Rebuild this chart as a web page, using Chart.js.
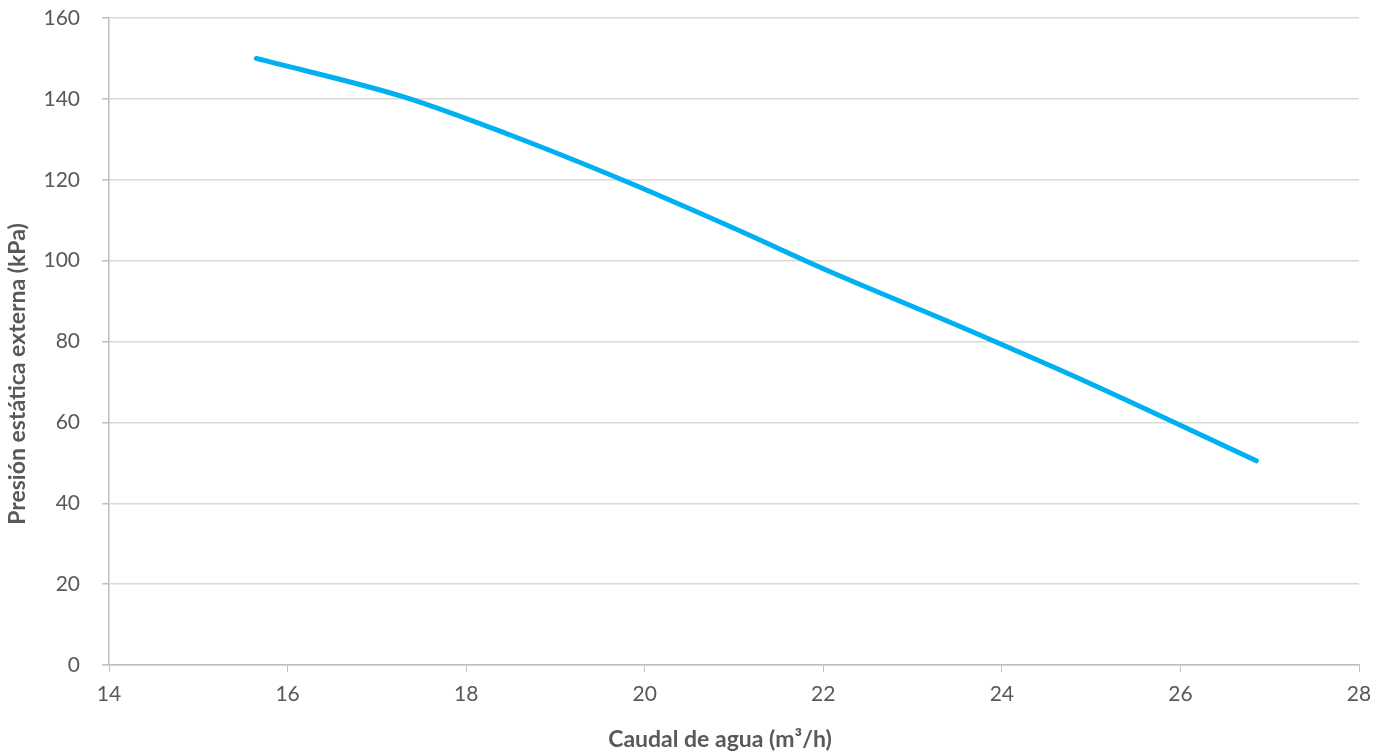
<!DOCTYPE html>
<html>
<head>
<meta charset="utf-8">
<script src="https://cdn.jsdelivr.net/npm/chart.js@4/dist/chart.umd.min.js"></script>
<style>
  html, body { margin: 0; padding: 0; background: #fff; }
  #wrap { width: 1389px; height: 756px; }
</style>
</head>
<body>
<div id="wrap"><canvas id="curve"></canvas></div>
<script>
// Curva de presión estática externa vs caudal de agua
const caudal = [15.65, 17.3, 18.5, 19.8, 21.0, 22.0, 23.5, 25.0, 26.85];
const presion = [150, 140.5, 131, 119.5, 108, 98, 84, 69.5, 50.5];

const xTitle = 'Caudal de agua (m³/h)';
const yTitle = 'Presión estática externa (kPa)';

const TEXT_COLOR = '#595959';
const AXIS_COLOR = '#bfbfbf';
const GRID_COLOR = '#d9d9d9';
const LINE_COLOR = '#00b0f0';
const TITLE_FONT = 'bold 23px Lato';

const points = caudal.map((x, i) => ({ x: x, y: presion[i] }));

// Axis titles are centred like the spreadsheet did it, not on the plot area
const axisTitles = {
  id: 'axisTitles',
  afterDraw(chart) {
    const c = chart.ctx;
    c.save();
    c.fillStyle = TEXT_COLOR;
    c.font = TITLE_FONT;
    c.textAlign = 'center';
    c.textBaseline = 'middle';
    c.fillText(xTitle, 720, 740);
    c.translate(18, 374);
    c.rotate(-Math.PI / 2);
    c.fillText(yTitle, 0, 0);
    c.restore();
  }
};

const ctx = document.getElementById('curve').getContext('2d');
new Chart(ctx, {
  type: 'scatter',
  data: {
    datasets: [{
      data: points,
      showLine: true,
      borderColor: LINE_COLOR,
      borderWidth: 5,
      borderCapStyle: 'round',
      borderJoinStyle: 'round',
      pointRadius: 0,
      cubicInterpolationMode: 'monotone',
      fill: false
    }]
  },
  options: {
    responsive: true,
    maintainAspectRatio: false,
    animation: false,
    layout: {
      padding: { left: 4, right: 30, top: 18, bottom: 3 }
    },
    scales: {
      x: {
        type: 'linear',
        min: 14,
        max: 28,
        afterFit: (scale) => { scale.height = 88; },
        ticks: {
          stepSize: 2,
          color: TEXT_COLOR,
          padding: 10,
          font: { family: 'Lato', size: 21 }
        },
        grid: {
          drawOnChartArea: false,
          drawTicks: true,
          tickLength: 7,
          color: AXIS_COLOR
        },
        border: { color: AXIS_COLOR, width: 1.5 }
      },
      y: {
        type: 'linear',
        min: 0,
        max: 160,
        afterFit: (scale) => {
          scale.width = 105;
          scale.paddingTop = 0;
          scale.paddingBottom = 0;
        },
        ticks: {
          stepSize: 20,
          color: TEXT_COLOR,
          padding: 22,
          font: { family: 'Lato', size: 21 }
        },
        grid: {
          color: GRID_COLOR,
          lineWidth: 1.5,
          tickLength: 7,
          tickColor: AXIS_COLOR
        },
        border: { color: AXIS_COLOR, width: 1.5 }
      }
    },
    plugins: {
      legend: { display: false },
      tooltip: { enabled: false }
    }
  },
  plugins: [axisTitles]
});
</script>
</body>
</html>
